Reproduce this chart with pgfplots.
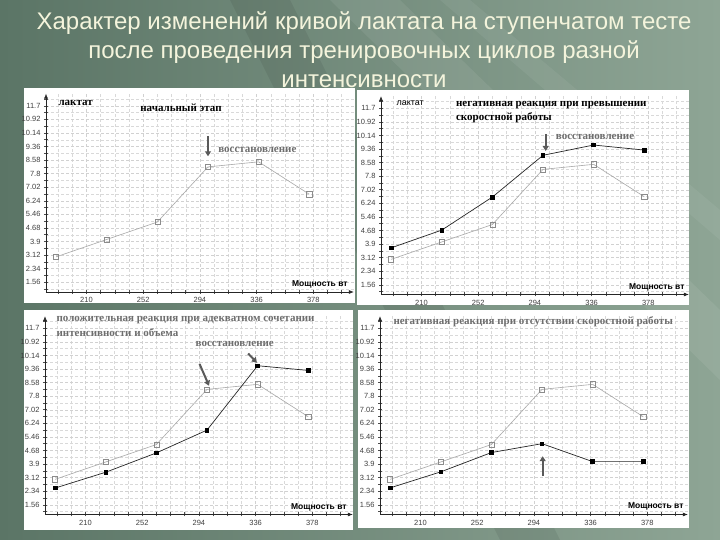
\documentclass[border=0pt]{standalone}
\usepackage{fontspec}
\setmainfont{Liberation Sans}
\newfontfamily\serifb{Liberation Serif}
\usepackage{pgfplots}
\pgfplotsset{compat=1.18}
\usetikzlibrary{arrows.meta}
\definecolor{bgA}{HTML}{5B7566}
\definecolor{bgB}{HTML}{8EA595}
\definecolor{titlec}{HTML}{F4F4DC}
\definecolor{lgray}{HTML}{A8A8A8}
\definecolor{annot}{HTML}{6E6E6E}
\definecolor{arrowc}{HTML}{5A5A5A}

\pgfplotsset{
  panel/.style={
    x=1.35pt, y=17.4pt,
    xmin=180, xmax=408, ymin=1, ymax=12.4,
    anchor=south west,
    axis lines=left,
    axis line style={black!85, line width=0.6pt, -{Latex[length=5pt,width=4pt]}},
    xtick={210,252,294,336,378},
    xticklabels={210,252,294,336,378},
    minor xtick={189,199.5,220.5,231,241.5,262.5,273,283.5,304.5,315,325.5,346.5,357,367.5,388.5,399},
    ytick={1.56,2.34,3.12,3.9,4.68,5.46,6.24,7.02,7.8,8.58,9.36,10.14,10.92,11.7},
    yticklabels={1.56,2.34,3.12,3.9,4.68,5.46,6.24,7.02,7.8,8.58,9.36,10.14,10.92,11.7},
    minor ytick={1.17,1.95,2.73,3.51,4.29,5.07,5.85,6.63,7.41,8.19,8.97,9.75,10.53,11.31,12.09},
    grid=both,
    major grid style={densely dashed, black!18, line width=0.4pt},
    minor grid style={densely dashed, black!15, line width=0.4pt},
    tick align=center,
    major tick length=4pt, minor tick length=4pt,
    tick style={black!70, line width=0.5pt},
    tick label style={font=\fontsize{7.5}{8.5}\selectfont, text=black!75},
    clip=false,
  },
  grayline/.style={lgray, line width=0.6pt, mark=square, mark size=2.6pt,
    mark options={fill=white, draw=black!45, line width=0.5pt}},
  blackline/.style={black!85, line width=0.7pt, mark=square*, mark size=1.8pt,
    mark options={black}},
}
\newcommand{\annfont}{\serifb\bfseries\fontsize{11}{13}\selectfont}
\newcommand{\powfont}{\bfseries\fontsize{8.5}{10}\selectfont}

\begin{document}
\begin{tikzpicture}[x=1pt,y=1pt]
\useasboundingbox (0,0) rectangle (720,540);
% background
\fill[left color=bgA, right color=bgB] (0,0) rectangle (720,540);
\fill[white, opacity=0.07] (330,540) -- (400,540) -- (720,230) -- (720,160) -- cycle;
\fill[black, opacity=0.07] (230,540) -- (290,540) -- (560,0) -- (500,0) -- cycle;
\fill[white, opacity=0.06] (440,540) -- (470,540) -- (720,330) -- (720,300) -- cycle;
% title
\node[anchor=base, text=titlec, font=\fontsize{24}{28}\selectfont] at (364,510) {Характер изменений кривой лактата на ступенчатом тесте};
\node[anchor=base, text=titlec, font=\fontsize{24}{28}\selectfont] at (364,481) {после проведения тренировочных циклов разной};
\node[anchor=base, text=titlec, font=\fontsize{24}{28}\selectfont] at (364,452) {интенсивности};
% panels
\fill[white] (24,237) rectangle (355,452);
\fill[white] (357,235) rectangle (689,450);
\fill[white] (24,10) rectangle (353,230);
\fill[white] (358,12) rectangle (689,230);

% ---------- Panel 1 ----------
\begin{axis}[panel, at={(46pt,248pt)}]
\addplot[grayline] coordinates {(187.5,3.02) (225,4.02) (262.5,5.02) (300,8.19) (337.5,8.48) (375,6.62)};
\node[anchor=west, font=\annfont] at (axis cs:186.7,11.86) {лактат};
\node[font=\annfont] at (axis cs:280,11.57) {начальный этап};
\draw[arrowc, line width=2pt, -{Triangle[length=5pt,width=6pt]}] (axis cs:300,9.95) -- (axis cs:300,8.8);
\node[anchor=west, font=\annfont, text=annot] at (axis cs:305,9.16) {восстановление};
\node[anchor=east, font=\powfont] at (axis cs:406,1.46) {Мощность вт};
\end{axis}

% ---------- Panel 2 ----------
\begin{axis}[panel, at={(381pt,245.5pt)}]
\addplot[grayline] coordinates {(187.5,3.02) (225,4.02) (262.5,5.02) (300,8.19) (337.5,8.48) (375,6.62)};
\addplot[blackline] coordinates {(187.5,3.68) (225,4.70) (262.5,6.60) (300,9.00) (337.5,9.59) (375,9.30)};
\node[anchor=west, font=\fontsize{9}{10}\selectfont] at (axis cs:188.9,12.0) {лактат};
\node[anchor=west, font=\annfont] at (axis cs:233,11.9) {негативная реакция при превышении};
\node[anchor=west, font=\annfont] at (axis cs:233,11.18) {скоростной работы};
\node[anchor=west, font=\annfont, text=annot] at (axis cs:307,10.03) {восстановление};
\draw[arrowc, line width=2pt, -{Triangle[length=5pt,width=6pt]}] (axis cs:302,10.2) -- (axis cs:302,9.25);
\node[anchor=east, font=\powfont] at (axis cs:407.4,1.43) {Мощность вт};
\end{axis}

% ---------- Panel 3 ----------
\begin{axis}[panel, at={(45pt,25.5pt)}]
\addplot[grayline] coordinates {(187.5,3.02) (225,4.02) (262.5,5.02) (300,8.19) (337.5,8.48) (375,6.62)};
\addplot[blackline] coordinates {(187.5,2.52) (225,3.43) (262.5,4.54) (300,5.85) (337.5,9.55) (375,9.28)};
\node[anchor=west, font=\annfont, text=annot] at (axis cs:186,12.2) {положительная реакция при адекватном сочетании};
\node[anchor=west, font=\annfont, text=annot] at (axis cs:186,11.47) {интенсивности и объема};
\node[anchor=west, font=\annfont, text=annot] at (axis cs:289,10.8) {восстановление};
\draw[arrowc, line width=2pt, -{Triangle[length=5pt,width=6pt]}] (axis cs:294.5,9.65) -- (axis cs:301.5,8.4);
\draw[arrowc, line width=2pt, -{Triangle[length=5pt,width=6pt]}] (axis cs:330.5,10.25) -- (axis cs:337,9.72);
\node[anchor=east, font=\powfont] at (axis cs:406,1.43) {Мощность вт};
\end{axis}

% ---------- Panel 4 ----------
\begin{axis}[panel, at={(380pt,25.5pt)}]
\addplot[grayline] coordinates {(187.5,3.02) (225,4.02) (262.5,5.02) (300,8.19) (337.5,8.48) (375,6.62)};
\addplot[blackline] coordinates {(187.5,2.53) (225,3.45) (262.5,4.56) (300,5.07) (337.5,4.04) (375,4.04)};
\node[anchor=west, font=\annfont, text=annot] at (axis cs:187.4,12.06) {негативная реакция при отсутствии скоростной работы};
\draw[arrowc, line width=2pt, -{Triangle[length=5pt,width=6pt]}] (axis cs:300.5,3.2) -- (axis cs:300.5,4.35);
\node[anchor=east, font=\powfont] at (axis cs:407.4,1.45) {Мощность вт};
\end{axis}
\end{tikzpicture}
\end{document}
